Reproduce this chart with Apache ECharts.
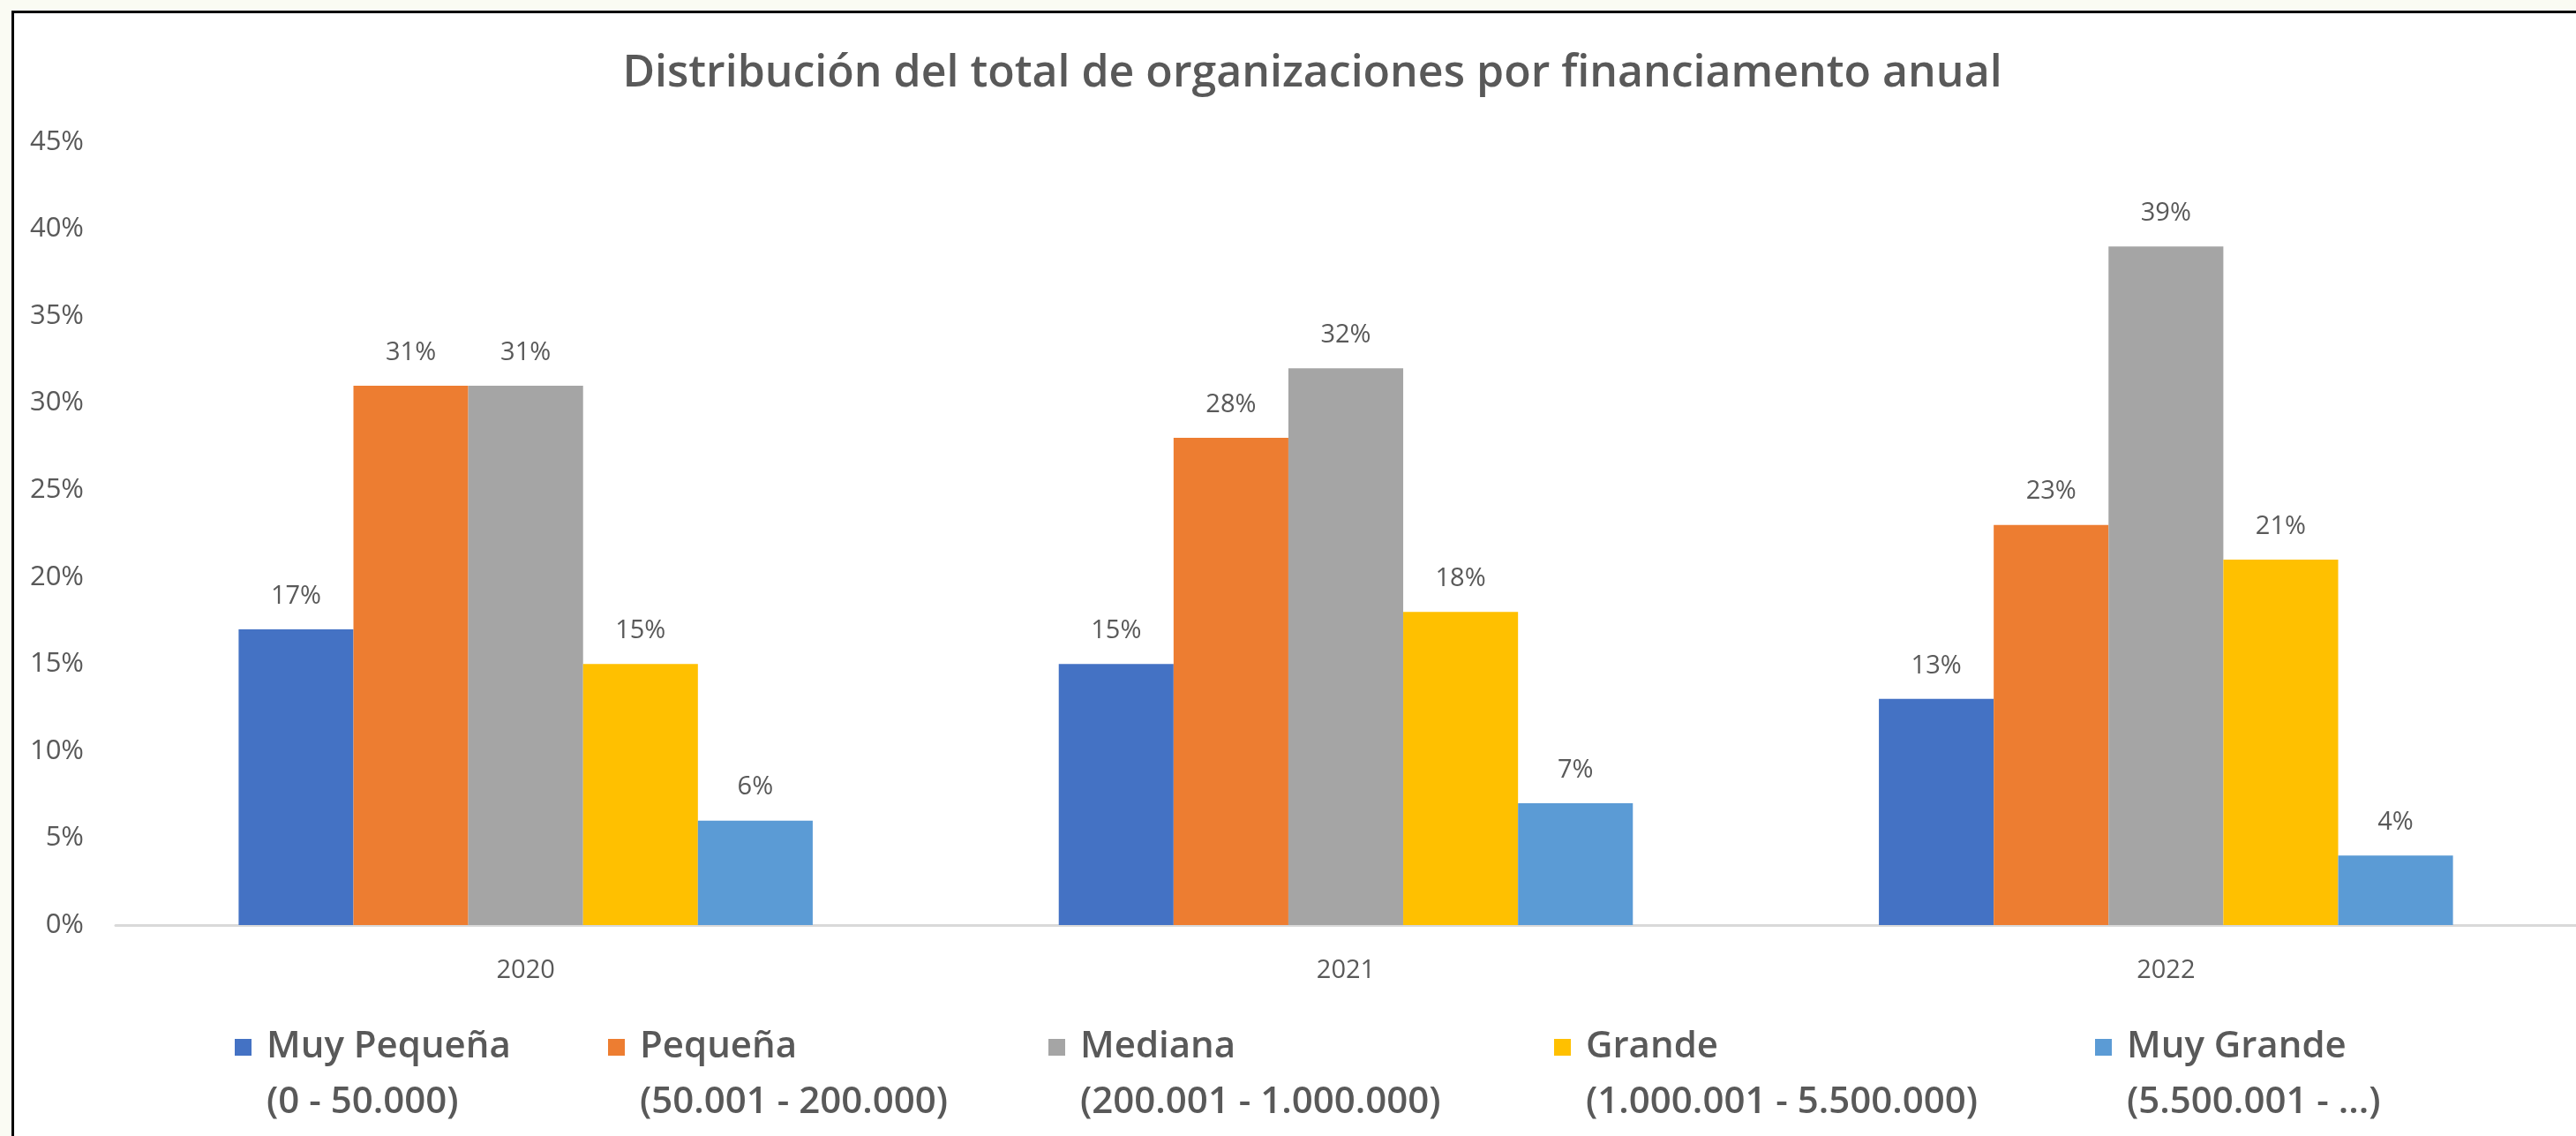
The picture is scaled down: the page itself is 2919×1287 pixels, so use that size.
<!DOCTYPE html>
<html>
<head>
<meta charset="utf-8">
<title>Distribución por financiamento anual</title>
<script src="https://cdn.jsdelivr.net/npm/echarts@6/dist/echarts.min.js"></script>
<style>
  html, body { margin: 0; padding: 0; background: #fafbf3; overflow: hidden; }
  #frame {
    position: absolute; left: 13px; top: 12px;
    width: 2903px; height: 1272px;
    border-left: 3px solid #000; border-top: 3px solid #000;
    background: #fff;
  }
  #chart { width: 2903px; height: 1272px; }
</style>
</head>
<body>
<div id="frame"><div id="chart"></div></div>
<script>
const years = ['2020', '2021', '2022']
const sizes = ['Muy Pequeña', 'Pequeña', 'Mediana', 'Grande', 'Muy Grande']
const ranges = ['(0 - 50.000)', '(50.001 - 200.000)', '(200.001 - 1.000.000)', '(1.000.001 - 5.500.000)', '(5.500.001 - ...)']

// percent of organisations per year
const muyPequena = [17, 15, 13]
const pequena = [31, 28, 23]
const mediana = [31, 32, 39]
const grande = [15, 18, 21]
const muyGrande = [6, 7, 4]

const yMax = 45
const yStep = 5

const colors = ['#4472c4', '#ed7d31', '#a5a5a5', '#ffc000', '#5b9bd5']
const legendLeft = [250, 673, 1172, 1745, 2358]
const textColor = '#595959'
const font = '"Open Sans", "Noto Sans", sans-serif'

const values = [muyPequena, pequena, mediana, grande, muyGrande]

const chart = echarts.init(document.getElementById('chart'))

chart.setOption({
  animation: false,
  color: colors,
  textStyle: { fontFamily: font, color: textColor },
  title: {
    text: 'Distribución del total de organizaciones por financiamento anual',
    left: 1466,
    top: 64,
    textAlign: 'center',
    textVerticalAlign: 'middle',
    textStyle: { fontFamily: font, fontSize: 50, fontWeight: 600, color: textColor }
  },
  // one legend per item so each sits where the original put it;
  // the empty first line keeps the swatch level with the name
  legend: sizes.map((name, i) => ({
    data: [name],
    left: legendLeft[i],
    top: 1077,
    padding: 0,
    itemWidth: 19,
    itemHeight: 19,
    icon: 'rect',
    selectedMode: false,
    formatter: n => '\n' + n + '\n' + ranges[sizes.indexOf(n)],
    textStyle: {
      fontFamily: font,
      fontSize: 42,
      fontWeight: 600,
      lineHeight: 63,
      color: textColor,
      padding: [0, 0, 0, 12]
    }
  })),
  grid: {
    left: 115,
    top: 146,
    width: 2798,
    height: 887
  },
  xAxis: {
    type: 'category',
    data: years,
    axisTick: { show: false },
    axisLine: { lineStyle: { color: '#d9d9d9', width: 3 } },
    axisLabel: { fontFamily: font, fontSize: 29, color: textColor, margin: 37 }
  },
  yAxis: {
    type: 'value',
    min: 0,
    max: yMax,
    interval: yStep,
    splitLine: { show: false },
    axisLine: { show: false },
    axisTick: { show: false },
    axisLabel: {
      fontFamily: font,
      fontSize: 31,
      color: textColor,
      margin: 36,
      formatter: '{value}%'
    }
  },
  series: sizes.map((name, i) => ({
    name,
    type: 'bar',
    data: values[i],
    barGap: '0%',
    barCategoryGap: '30%',
    label: {
      show: true,
      position: 'top',
      distance: 23,
      fontFamily: font,
      fontSize: 29,
      color: textColor,
      formatter: '{c}%'
    }
  }))
})
</script>
</body>
</html>
